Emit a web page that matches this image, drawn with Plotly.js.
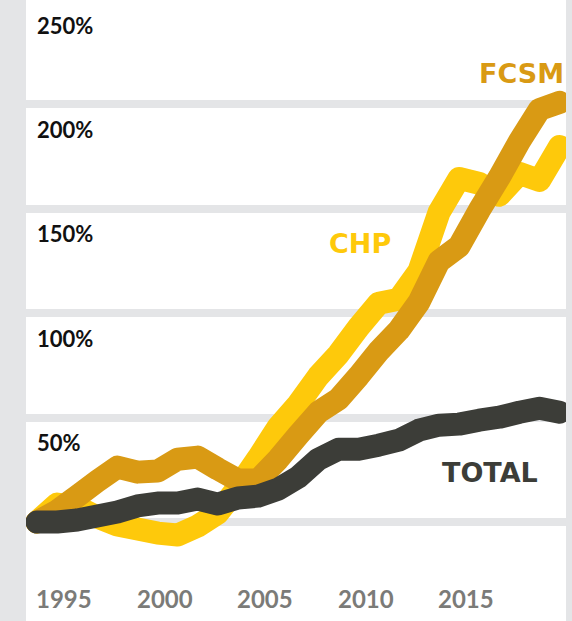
<!DOCTYPE html>
<html>
<head>
<meta charset="utf-8">
<script src="https://cdn.plot.ly/plotly-3.0.1.min.js"></script>
<style>
    html, body { margin: 0; padding: 0; background: #e4e5e7; }
    #chart { width: 572px; height: 621px; }
    /* thick rounded strokes like the original */
    .scatterlayer path.js-line { stroke-linejoin: round; stroke-linecap: round; }
</style>
</head>
<body>
<div id="chart"></div>
<script>
// percent change since 1994
const years = [1994, 1995, 1996, 1997, 1998, 1999, 2000, 2001, 2002, 2003, 2004, 2005, 2006,
    2007, 2008, 2009, 2010, 2011, 2012, 2013, 2014, 2015, 2016, 2017, 2018, 2019, 2020];

const chp = [0, 8.6, 7.2, 2.4, -1.4, -3.3, -5.3, -6.2, -1.9, 4.3, 16.7, 30.6, 45.5,
    56.5, 69.9, 80.4, 93.3, 104.8, 106.7, 120.1, 148.3, 164.6, 162.2, 156.5, 167.0, 163.6, 179.9];

const fcsm = [0, 5.3, 12.4, 19.6, 26.3, 23.9, 24.4, 30.1, 31.1, 25.4, 20.1, 20.1, 30.1,
    41.6, 52.6, 58.9, 69.9, 81.8, 91.9, 105.3, 124.9, 132.1, 149.3, 165.1, 182.3, 197.6, 201.0];

const total = [0, 0, 1.0, 2.9, 4.8, 7.7, 9.1, 9.1, 11.0, 8.6, 11.5, 12.4, 15.8,
    21.5, 30.1, 34.9, 34.9, 36.8, 39.2, 44.0, 46.4, 46.9, 48.8, 50.2, 52.6, 54.5, 52.6];

const yTicks = [50, 100, 150, 200, 250];
const yTickLabels = ['50%', '100%', '150%', '200%', '250%'];
const xTicks = [1995, 2000, 2005, 2010, 2015];
const xTickLabels = ['1995', '2000', '2005', '2010', '2015'];

const GRAY = '#e4e5e7';
const COLORS = { chp: '#fec90b', fcsm: '#d99a14', total: '#3c3d38' };

document.addEventListener('DOMContentLoaded', () => {
    renderChart();
});

function renderChart() {
    const line = (y, color) => ({
        x: years,
        y: y,
        type: 'scatter',
        mode: 'lines',
        line: { color: color, width: 23, simplify: false },
        hoverinfo: 'skip'
    });

    const data = [
        line(chp, COLORS.chp),
        line(fcsm, COLORS.fcsm),
        line(total, COLORS.total)
    ];

    const numFont = { family: 'Lato, sans-serif', weight: 700 };

    const yLabels = yTicks.map((v, i) => ({
        x: 0, xref: 'paper', xanchor: 'left', xshift: 9,
        y: v, yref: 'y', yanchor: 'middle', yshift: -25,
        text: yTickLabels[i], showarrow: false,
        font: { ...numFont, size: 22, color: '#111111' }
    }));

    const xLabels = xTicks.map((v, i) => ({
        x: v, xref: 'x', xanchor: 'center', xshift: 7,
        y: 23 / 621, yref: 'paper', yanchor: 'middle',
        text: xTickLabels[i], showarrow: false,
        font: { ...numFont, size: 24, color: '#7b7b78' }
    }));

    const nameFont = { family: 'DejaVu Sans, sans-serif', weight: 700, size: 27 };
    const names = [
        { x: 1, xref: 'paper', xanchor: 'right', xshift: 0, y: 215, yref: 'y', yanchor: 'middle',
          text: 'FCSM', showarrow: false, font: { ...nameFont, color: COLORS.fcsm } },
        { x: 2010.07, xref: 'x', xanchor: 'center', y: 133.6, yref: 'y', yanchor: 'middle',
          text: 'CHP', showarrow: false, font: { ...nameFont, color: COLORS.chp } },
        { x: 2016.54, xref: 'x', xanchor: 'center', y: 23.5, yref: 'y', yanchor: 'middle',
          text: 'TOTAL', showarrow: false, font: { ...nameFont, color: COLORS.total } }
    ];

    const layout = {
        width: 572,
        height: 621,
        margin: { t: 0, b: 0, l: 26, r: 6 },
        paper_bgcolor: GRAY,
        plot_bgcolor: '#ffffff',
        showlegend: false,
        xaxis: {
            range: [1993.453, 2020.318],
            showgrid: false,
            zeroline: false,
            showticklabels: false,
            ticks: ''
        },
        yaxis: {
            range: [-47.4, 250.05],
            tickvals: [0].concat(yTicks),
            showticklabels: false,
            gridcolor: GRAY,
            gridwidth: 8,
            zeroline: false,
            ticks: ''
        },
        annotations: yLabels.concat(xLabels, names)
    };

    Plotly.newPlot('chart', data, layout, { staticPlot: true });
}
</script>
</body>
</html>
